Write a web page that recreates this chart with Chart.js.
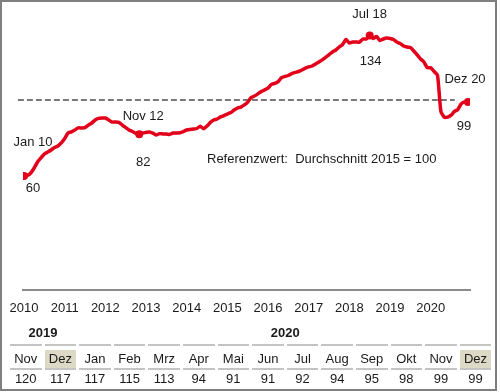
<!DOCTYPE html>
<html>
<head>
<meta charset="utf-8">
<script src="https://cdn.jsdelivr.net/npm/chart.js"></script>
<style>
  body { margin: 0; background: #fff; font-family: "Liberation Sans", Arial, sans-serif; }
  #rahmen { position: absolute; left: 0; top: 0; width: 497px; height: 391px; box-sizing: border-box; border: 2px solid #7f7f7f; }
  #chart { position: absolute; left: 0; top: 0; }
  .zelle { position: absolute; font-size: 13px; color: #1a1a1a; text-align: center; line-height: 18px; }
  .linie { position: absolute; height: 2px; background: #c4c4c4; }
  .jahr { position: absolute; font-size: 13px; font-weight: bold; color: #1a1a1a; text-align: center; }
</style>
</head>
<body>
<div id="rahmen"></div>
<canvas id="chart" width="500" height="330"></canvas>
<div id="tabelle"></div>
<script>
// Jahresachse, Monatswerte Jan 2010 bis Dez 2020
const jahre = ['2010','2011','2012','2013','2014','2015','2016','2017','2018','2019','2020'];
const werte = [
  60, 60.3, 61.6, 64.2, 67.4, 69.5, 71.6, 72.6, 73.7, 75.0, 75.8, 77.4,
  79.7, 82.6, 83.2, 84.2, 85.3, 85.3, 85.5, 86.8, 87.9, 89.5, 90.3, 90.5,
  90.5, 89.5, 88.4, 88.4, 88.2, 86.8, 85.5, 84.2, 83.4, 82.4, 82, 82.6,
  82.9, 83.2, 82.6, 81.6, 82.3, 82.1, 82.1, 81.9, 82.6, 82.6, 82.8, 83.4,
  84.2, 84.5, 84.7, 85.0, 86.2, 84.9, 86.3, 88.2, 89.5, 90.0, 91.1, 91.8,
  92.6, 93.4, 94.7, 95.8, 96.3, 97.4, 98.9, 101.3, 102.1, 103.2, 104.5, 105.3,
  106.3, 108.2, 108.7, 109.7, 111.8, 112.4, 112.9, 113.9, 114.5, 115.0, 115.8, 116.8,
  117.4, 117.9, 118.9, 120.0, 121.1, 122.4, 123.9, 125.3, 126.3, 127.9, 129.2, 131.8,
  130.0, 130.5, 130.5, 130.5, 132.1, 132.1, 134, 132.4, 133.4, 131.3, 132.1, 132.6,
  132.4, 131.8, 130.5, 129.7, 128.4, 127.9, 127.6, 125.8, 123.7, 121.6, 120, 117,
  117, 115, 113, 94, 91, 91, 92, 94, 95, 98, 99, 99
];
const referenzwert = 100;
const referenzText = 'Referenzwert:  Durchschnitt 2015 = 100';

// markierte Punkte: Index im Monatsarray, Beschriftung
const markiert = [
  { i: 0, name: 'Jan 10', wert: '60' },
  { i: 34, name: 'Nov 12', wert: '82' },
  { i: 102, name: 'Jul 18', wert: '134' },
  { i: 131, name: 'Dez 20', wert: '99' }
];

// Tabelle unten
const tabelleMonate = ['Nov','Dez','Jan','Feb','Mrz','Apr','Mai','Jun','Jul','Aug','Sep','Okt','Nov','Dez'];
const tabelleWerte = [120, 117, 117, 115, 113, 94, 91, 91, 92, 94, 95, 98, 99, 99];
const tabelleJahre = ['2019', '2020'];

const rot = '#e2001a';
const schrift = '"Liberation Sans", Arial, sans-serif';

// Textversatz der Beschriftungen relativ zum Punkt
const versatz = [
  { nx: 9, ny: -34, wx: 9, wy: 12 },
  { nx: 4, ny: -18, wx: 4, wy: 28 },
  { nx: 0, ny: -21, wx: 1, wy: 26 },
  { nx: -3, ny: -22, wx: -4, wy: 25 }
];

const beschriftung = {
  id: 'beschriftung',
  afterDatasetsDraw(chart) {
    const ctx = chart.ctx;
    const xs = chart.scales.x, ys = chart.scales.y;
    ctx.save();
    ctx.font = '13px ' + schrift;
    ctx.fillStyle = '#1a1a1a';
    ctx.textAlign = 'center';
    ctx.textBaseline = 'middle';
    markiert.forEach((m, k) => {
      const px = xs.getPixelForValue(m.i);
      const py = ys.getPixelForValue(werte[m.i]);
      ctx.fillText(m.name, px + versatz[k].nx, py + versatz[k].ny);
      ctx.fillText(m.wert, px + versatz[k].wx, py + versatz[k].wy);
    });
    ctx.textAlign = 'left';
    ctx.fillText(referenzText, 207, 159);
    ctx.restore();
  }
};

new Chart(document.getElementById('chart').getContext('2d'), {
  type: 'line',
  data: {
    datasets: [
      {
        data: werte.map((v, i) => ({ x: i, y: v })),
        borderColor: rot,
        backgroundColor: rot,
        borderWidth: 3.5,
        tension: 0.2,
        pointRadius: werte.map((v, i) => markiert.some(m => m.i === i) ? 4 : 0),
        pointBorderWidth: 0,
        order: 1
      },
      {
        data: [{ x: -1.8, y: referenzwert }, { x: 127.1, y: referenzwert }],
        borderColor: '#7a7a7a',
        borderWidth: 2,
        borderDash: [6, 3],
        pointRadius: 0,
        clip: false,
        order: 2
      }
    ]
  },
  options: {
    responsive: false,
    animation: false,
    devicePixelRatio: 1,
    layout: { padding: { left: 23, right: 30, top: 5, bottom: 10 } },
    plugins: { legend: { display: false }, tooltip: { enabled: false } },
    scales: {
      x: {
        type: 'linear',
        min: -0.295,
        max: 131.59,
        afterBuildTicks: scale => { scale.ticks = jahre.map((j, k) => ({ value: k * 12 })); },
        afterFit: scale => { scale.height = 30; },
        grid: { display: false },
        border: { display: true, color: '#8a8a8a', width: 2 },
        ticks: {
          autoSkip: false,
          maxRotation: 0,
          color: '#1a1a1a',
          font: { family: schrift, size: 13 },
          callback: v => jahre[Math.round(v / 12)]
        }
      },
      y: { display: false, min: 0, max: 150 }
    }
  },
  plugins: [beschriftung]
});

// Tabelle aufbauen
const tab = document.getElementById('tabelle');
const spalteLinks = 10, spalteAbstand = 34.6, spalteBreite = 31.5;
function div(cls, css, text) {
  const d = document.createElement('div');
  d.className = cls;
  Object.assign(d.style, css);
  if (text) d.textContent = text;
  tab.appendChild(d);
}
tabelleMonate.forEach((mon, k) => {
  const l = spalteLinks + k * spalteAbstand;
  div('linie', { left: l + 'px', top: '344px', width: spalteBreite + 'px' });
  div('zelle', {
    left: l + 'px', top: '350px', width: spalteBreite + 'px', height: '18px',
    background: mon === 'Dez' ? '#dcd9c6' : 'transparent'
  }, mon);
  div('linie', { left: l + 'px', top: '368px', width: spalteBreite + 'px' });
  div('zelle', { left: l + 'px', top: '370px', width: spalteBreite + 'px' }, String(tabelleWerte[k]));
});
// Jahr 2019 über den ersten zwei Spalten, 2020 über den restlichen
div('jahr', { left: spalteLinks + 'px', top: '325px', width: (spalteAbstand + spalteBreite) + 'px' }, tabelleJahre[0]);
div('jahr', {
  left: (spalteLinks + 2 * spalteAbstand) + 'px', top: '325px',
  width: (11 * spalteAbstand + spalteBreite) + 'px'
}, tabelleJahre[1]);
</script>
</body>
</html>
